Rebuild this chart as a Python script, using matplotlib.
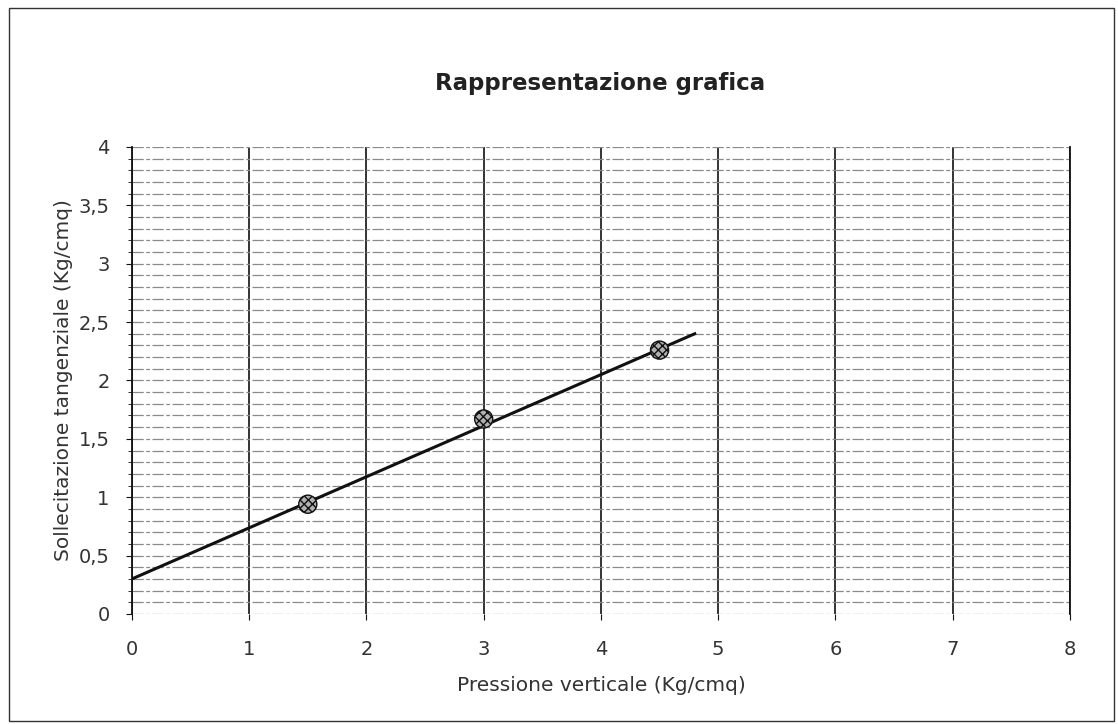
import numpy as np
import matplotlib
matplotlib.use('Agg')
import matplotlib.pyplot as plt
from matplotlib.patches import Rectangle
from matplotlib.ticker import FuncFormatter

plt.rcParams['font.family'] = ['DejaVu Sans']

# measured points
pressione = [1.5, 3.0, 4.5]
sollecitazione = [0.94, 1.67, 2.26]

# trend line
linea_x = [0.0, 4.8]
linea_y = [0.30, 2.40]

x_ticks = [0, 1, 2, 3, 4, 5, 6, 7, 8]
y_ticks = [0, 0.5, 1, 1.5, 2, 2.5, 3, 3.5, 4]
y_minor = [0.1, 0.2, 0.3, 0.4, 0.6, 0.7, 0.8, 0.9, 1.1, 1.2, 1.3, 1.4,
           1.6, 1.7, 1.8, 1.9, 2.1, 2.2, 2.3, 2.4, 2.6, 2.7, 2.8, 2.9,
           3.1, 3.2, 3.3, 3.4, 3.6, 3.7, 3.8, 3.9]

fig = plt.figure(figsize=(11.18, 7.24), dpi=100)
ax = fig.add_axes([0.118, 0.152, 0.839, 0.645])

# outer chart border
fig.patches.append(Rectangle((0.008, 0.004), 0.988, 0.985, transform=fig.transFigure,
                             fill=False, edgecolor='#333333', linewidth=1.0))

ax.set_xlim(0, 8)
ax.set_ylim(0, 4)
ax.set_xticks(x_ticks)
ax.set_yticks(y_ticks)
ax.set_yticks(y_minor, minor=True)
ax.yaxis.set_major_formatter(FuncFormatter(lambda v, p: ('%g' % v).replace('.', ',')))

ax.grid(axis='y', which='both', color='#8a8a8a', linestyle=(0, (9, 2, 3, 2)), linewidth=0.9)
ax.grid(axis='x', which='major', color='#111111', linestyle='-', linewidth=1.2)
ax.set_axisbelow(True)

for s in ['top', 'bottom']:
    ax.spines[s].set_visible(False)
for s in ['left', 'right']:
    ax.spines[s].set_color('#111111')
    ax.spines[s].set_linewidth(1.3)

ax.tick_params(axis='both', which='major', length=4, color='#111111', labelsize=14,
               labelcolor='#333333')
ax.tick_params(axis='x', which='major', pad=15)
ax.tick_params(axis='y', which='major', pad=12)
ax.tick_params(axis='y', which='minor', length=3, color='#111111')

ax.plot(linea_x, linea_y, color='#111111', linewidth=2.2, zorder=3)
ax.scatter(pressione, sollecitazione, s=170, facecolor='#b0b0b0', edgecolor='#111111',
           hatch='xxxx', linewidth=1.0, zorder=4)

ax.set_xlabel('Pressione verticale (Kg/cmq)', fontsize=14.5, color='#333333', labelpad=12)
ax.set_ylabel('Sollecitazione tangenziale (Kg/cmq)', fontsize=14.5, color='#333333', labelpad=4)
fig.text(0.537, 0.885, 'Rappresentazione grafica', fontsize=16.5, fontweight='semibold',
         color='#222222', ha='center', va='center')

fig.savefig('out.png', dpi=100, facecolor='white')
